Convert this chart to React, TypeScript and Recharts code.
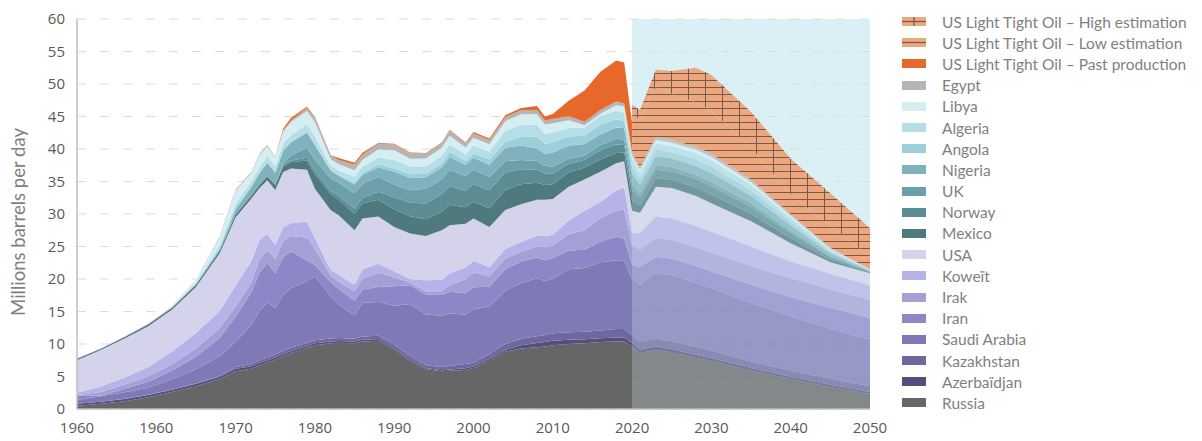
import React from 'react';
import {
  AreaChart,
  Area,
  XAxis,
  YAxis,
  CartesianGrid,
  ReferenceArea,
} from 'recharts';

// years (2020 appears twice: last historical row, then first forecast row)
const YEARS = [
  1950, 1953, 1956, 1959, 1962, 1965, 1968, 1970, 1972, 1973, 1974, 1975, 1976, 1977, 1979,
  1980, 1982, 1983, 1985, 1986, 1988, 1990, 1992, 1994, 1996, 1997, 1999, 2000, 2002, 2004,
  2006, 2008, 2009, 2010, 2012, 2014, 2016, 2018, 2019, 2020, 2020, 2021, 2023, 2025, 2028,
  2030, 2035, 2040, 2045, 2050,
];

const X_TICKS = [1950, 1960, 1970, 1980, 1990, 2000, 2010, 2020, 2030, 2040, 2050];
const X_LABELS = ['1960', '1960', '1970', '1980', '1990', '2000', '2010', '2020', '2030', '2040', '2050'];
const Y_TICKS = [0, 5, 10, 15, 20, 25, 30, 35, 40, 45, 50, 55, 60];

const RUSSIA = [
  0.5, 0.8, 1.2, 1.8, 2.6, 3.5, 4.6, 5.8, 6.2, 6.7, 7.1, 7.6, 8.1, 8.6, 9.4,
  9.8, 10.1, 10.2, 10.1, 10.4, 10.5, 9.1, 7.4, 6.1, 5.8, 5.9, 6.0, 6.3, 7.4, 8.8,
  9.3, 9.5, 9.6, 9.8, 10.0, 10.1, 10.3, 10.4, 10.4, 9.6, 9.6, 8.6, 9.1, 8.7, 7.9,
  7.4, 5.9, 4.6, 3.4, 2.3,
];
const AZERBAIDJAN = [
  0.3, 0.3, 0.33, 0.35, 0.36, 0.38, 0.38, 0.38, 0.36, 0.36, 0.35, 0.35, 0.34, 0.33, 0.31,
  0.3, 0.28, 0.28, 0.27, 0.27, 0.26, 0.25, 0.22, 0.19, 0.18, 0.18, 0.28, 0.28, 0.31, 0.31,
  0.5, 0.65, 0.7, 0.7, 0.65, 0.62, 0.6, 0.6, 0.6, 0.55, 0.55, 0.55, 0.5, 0.48, 0.44,
  0.42, 0.4, 0.35, 0.32, 0.3,
];
const KAZAKHSTAN = [
  0.02, 0.02, 0.03, 0.03, 0.04, 0.04, 0.15, 0.27, 0.4, 0.42, 0.45, 0.47, 0.48, 0.48, 0.47,
  0.47, 0.46, 0.46, 0.45, 0.47, 0.5, 0.53, 0.53, 0.43, 0.47, 0.54, 0.63, 0.55, 0.7, 0.9,
  1.0, 1.05, 1.1, 1.15, 1.15, 1.18, 1.17, 1.3, 1.3, 1.2, 1.2, 1.2, 1.25, 1.25, 1.2,
  1.15, 1.0, 0.95, 0.92, 0.9,
];
const SAUDI = [
  0.55, 0.85, 1.0, 1.1, 1.6, 2.2, 3.0, 3.9, 6.0, 7.6, 8.5, 7.1, 8.6, 9.2, 9.5,
  9.9, 6.5, 5.1, 3.6, 5.2, 5.2, 6.0, 8.0, 7.8, 7.9, 8.1, 7.6, 8.2, 7.4, 8.2,
  8.6, 8.9, 8.3, 8.4, 9.7, 9.8, 10.5, 10.6, 10.6, 8.6, 8.6, 8.75, 10.05, 10.17, 9.9,
  9.6, 9.0, 8.3, 7.7, 7.1,
];
const IRAN = [
  0.66, 0.05, 0.54, 0.93, 1.34, 1.9, 2.84, 3.83, 5.06, 5.86, 6.06, 5.35, 5.88, 5.66, 3.17,
  1.66, 2.21, 2.44, 2.25, 2.04, 2.3, 3.0, 2.9, 3.1, 3.2, 3.3, 3.3, 3.4, 3.0, 3.3,
  3.3, 3.2, 3.2, 3.2, 2.9, 2.8, 3.2, 3.6, 3.3, 2.2, 2.2, 2.8, 2.5, 2.5, 2.55,
  2.6, 2.8, 3.0, 3.2, 3.4,
];
const IRAK = [
  0.14, 0.58, 0.64, 0.84, 1.0, 1.3, 1.5, 1.6, 1.47, 2.02, 1.97, 2.26, 2.42, 2.35, 3.48,
  2.51, 1.0, 1.1, 1.43, 1.69, 2.2, 1.4, 0.4, 0.5, 0.55, 1.0, 2.2, 2.3, 1.6, 1.6,
  1.5, 1.7, 2.0, 1.85, 2.5, 3.0, 3.6, 4.0, 4.5, 3.0, 3.0, 2.6, 2.9, 2.9, 2.9,
  2.9, 2.9, 2.9, 2.85, 2.8,
];
const KOWEIT = [
  0.34, 0.86, 1.1, 1.4, 1.96, 2.36, 2.6, 3.2, 3.3, 3.0, 2.5, 2.1, 2.15, 1.97, 2.5,
  1.66, 0.82, 1.06, 1.02, 1.42, 1.4, 0.9, 0.55, 1.7, 1.8, 1.85, 1.75, 1.77, 1.39, 1.49,
  1.5, 1.6, 1.7, 1.7, 2.1, 3.0, 2.53, 3.1, 3.4, 1.85, 1.85, 2.6, 3.3, 3.3, 3.3,
  3.2, 3.0, 2.6, 2.4, 2.2,
];
const USA = [
  5.0, 5.6, 6.0, 6.3, 6.4, 7.1, 8.9, 10.5, 9.6, 8.0, 8.27, 8.47, 8.5, 8.4, 7.97,
  7.6, 9.2, 9.16, 8.38, 7.81, 7.25, 6.82, 7.0, 6.78, 7.6, 7.4, 6.74, 6.5, 6.2, 6.0,
  5.8, 5.6, 5.6, 5.5, 5.2, 4.8, 4.6, 4.2, 4.0, 3.5, 3.5, 3.1, 4.6, 4.7, 4.6,
  4.4, 3.9, 2.8, 1.8, 1.9,
];
const MEXICO = [
  0.22, 0.22, 0.25, 0.28, 0.3, 0.33, 0.4, 0.45, 0.5, 0.5, 0.6, 0.75, 0.85, 1.0, 1.45,
  2.2, 2.5, 2.4, 2.55, 2.3, 2.6, 2.75, 2.65, 2.6, 2.85, 3.15, 2.55, 2.6, 2.87, 3.08,
  3.07, 2.6, 2.26, 2.27, 2.17, 1.86, 1.89, 1.6, 1.38, 1.53, 1.53, 1.19, 1.31, 1.26, 1.29,
  1.29, 1.09, 0.77, 0.37, 0.1,
];
const NORWAY = [
  0, 0, 0, 0, 0, 0, 0, 0, 0, 0, 0, 0.1, 0.25, 0.25, 0.4,
  0.55, 0.45, 0.55, 0.75, 0.85, 1.2, 1.8, 2.1, 2.4, 2.7, 2.9, 2.5, 2.77, 2.78, 2.72,
  2.33, 2.05, 1.82, 1.66, 1.36, 1.2, 1.42, 1.3, 1.14, 1.58, 1.58, 1.19, 1.31, 1.26, 1.29,
  1.29, 1.09, 0.77, 0.37, 0.1,
];
const UK = [
  0, 0, 0, 0, 0, 0, 0, 0, 0, 0, 0, 0, 0.2, 0.75, 1.55,
  1.75, 1.95, 2.05, 2.4, 2.2, 2.3, 2.0, 1.9, 2.3, 2.3, 2.5, 2.3, 2.17, 2.06, 1.72,
  1.4, 1.3, 1.13, 1.05, 0.72, 0.62, 0.82, 0.86, 0.85, 0.93, 0.93, 0.63, 0.69, 0.67, 0.68,
  0.68, 0.58, 0.4, 0.2, 0.05,
];
const NIGERIA = [
  0, 0, 0, 0, 0, 0.12, 0.25, 0.8, 1.3, 1.8, 2.1, 1.8, 2.0, 2.0, 2.3,
  2.2, 1.2, 1.1, 1.35, 1.4, 1.5, 1.95, 1.9, 1.75, 1.8, 2.0, 1.7, 1.82, 1.88, 2.08,
  2.23, 1.95, 1.82, 2.19, 2.04, 1.79, 1.63, 1.73, 1.71, 1.67, 1.67, 1.26, 1.39, 1.33, 1.37,
  1.37, 1.15, 0.81, 0.4, 0.11,
];
const ANGOLA = [
  0, 0, 0, 0, 0, 0, 0.05, 0.08, 0.1, 0.12, 0.15, 0.15, 0.15, 0.15, 0.15,
  0.17, 0.12, 0.15, 0.22, 0.27, 0.45, 0.5, 0.55, 0.55, 0.65, 0.7, 0.62, 0.65, 0.81, 0.9,
  1.3, 1.77, 1.56, 1.57, 1.45, 1.32, 1.5, 1.3, 1.14, 1.16, 1.16, 0.91, 1.0, 0.96, 0.99,
  0.99, 0.83, 0.58, 0.29, 0.08,
];
const ALGERIA = [
  0, 0, 0, 0.02, 0.15, 0.25, 0.55, 0.75, 0.75, 0.8, 0.85, 0.85, 0.95, 1.0, 1.15,
  1.2, 0.65, 0.65, 0.95, 1.0, 1.05, 1.3, 1.2, 1.15, 1.15, 1.2, 1.0, 1.21, 1.16, 1.72,
  1.86, 1.81, 1.56, 1.49, 1.28, 1.17, 1.33, 1.3, 1.22, 1.21, 1.21, 0.91, 1.0, 0.96, 0.99,
  0.99, 0.83, 0.58, 0.29, 0.08,
];
const LIBYA = [
  0, 0, 0, 0, 0.1, 0.35, 1.2, 2.0, 1.3, 1.9, 1.5, 1.3, 1.8, 2.0, 2.05,
  2.2, 1.0, 0.95, 1.0, 1.0, 1.2, 1.5, 1.2, 1.2, 1.25, 1.3, 1.05, 1.21, 1.16, 1.45,
  1.67, 1.67, 1.43, 1.44, 1.19, 0.39, 0.34, 0.86, 0.98, 0.37, 0.37, 0.49, 0.54, 0.52, 0.53,
  0.53, 0.45, 0.32, 0.15, 0.04,
];
const EGYPT = [
  0.03, 0.03, 0.05, 0.05, 0.05, 0.05, 0.15, 0.22, 0.15, 0.18, 0.2, 0.15, 0.2, 0.25, 0.45,
  0.7, 0.63, 0.65, 0.85, 0.8, 0.9, 0.9, 0.85, 0.75, 0.7, 0.85, 0.68, 0.67, 0.68, 0.63,
  0.63, 0.65, 0.61, 0.63, 0.61, 0.55, 0.56, 0.56, 0.49, 0.56, 0.56, 0.42, 0.46, 0.44, 0.46,
  0.46, 0.38, 0.27, 0.13, 0.04,
];
const LTO_PAST = [
  0, 0, 0, 0, 0, 0, 0, 0, 0, 0, 0, 0, 0.3, 0.4, 0.2,
  0.1, 0, 0.3, 0.3, 0.3, 0.1, 0.1, 0.1, 0.1, 0.1, 0.1, 0.1, 0.2, 0.2, 0.3,
  0.3, 0.6, 0.6, 0.8, 2.4, 4.8, 5.9, 6.3, 6.3, 4.5, 0, 0, 0, 0, 0,
  0, 0, 0, 0, 0,
];
const LTO_LOW = [
  0, 0, 0, 0, 0, 0, 0, 0, 0, 0, 0, 0, 0, 0, 0,
  0, 0, 0, 0, 0, 0, 0, 0, 0, 0, 0, 0, 0, 0, 0,
  0, 0, 0, 0, 0, 0, 0, 0, 0, 0, 5.8, 7.3, 7.8, 7.1, 6.8,
  6.6, 4.9, 3.0, 3.4, 1.9,
];
const LTO_HIGH = [
  0, 0, 0, 0, 0, 0, 0, 0, 0, 0, 0, 0, 0, 0, 0,
  0, 0, 0, 0, 0, 0, 0, 0, 0, 0, 0, 0, 0, 0, 0,
  0, 0, 0, 0, 0, 0, 0, 0, 0, 0, 1.5, 1.5, 2.5, 3.5, 5.3,
  5.5, 5.5, 5.5, 5.0, 4.4,
];

// stacking order, bottom first
const SERIES = [
  { key: 'russia', label: 'Russia', color: '#666666', values: RUSSIA },
  { key: 'azerbaidjan', label: 'Azerbaïdjan', color: '#554f7d', values: AZERBAIDJAN },
  { key: 'kazakhstan', label: 'Kazakhstan', color: '#6d699f', values: KAZAKHSTAN },
  { key: 'saudi', label: 'Saudi Arabia', color: '#7f7ab5', values: SAUDI },
  { key: 'iran', label: 'Iran', color: '#8c87c7', values: IRAN },
  { key: 'irak', label: 'Irak', color: '#a4a0d6', values: IRAK },
  { key: 'koweit', label: 'Koweït', color: '#b6b3e8', values: KOWEIT },
  { key: 'usa', label: 'USA', color: '#d4d3eb', values: USA },
  { key: 'mexico', label: 'Mexico', color: '#4e797d', values: MEXICO },
  { key: 'norway', label: 'Norway', color: '#5c8c94', values: NORWAY },
  { key: 'uk', label: 'UK', color: '#6b9fa9', values: UK },
  { key: 'nigeria', label: 'Nigeria', color: '#80b2be', values: NIGERIA },
  { key: 'angola', label: 'Angola', color: '#9dcfdb', values: ANGOLA },
  { key: 'algeria', label: 'Algeria', color: '#b6dee7', values: ALGERIA },
  { key: 'libya', label: 'Libya', color: '#d6eef2', values: LIBYA },
  { key: 'egypt', label: 'Egypt', color: '#b5b5b5', values: EGYPT },
  { key: 'ltoPast', label: 'US Light Tight Oil – Past production', color: '#e8672a', values: LTO_PAST },
  { key: 'ltoLow', label: 'US Light Tight Oil – Low estimation', color: '#eea67e', values: LTO_LOW, pattern: 'hatch-low' },
  { key: 'ltoHigh', label: 'US Light Tight Oil – High estimation', color: '#eea67e', values: LTO_HIGH, pattern: 'hatch-high' },
];

const X_MIN = 1950;
const X_MAX = 2050;
const FORECAST_START = 2020;
const FORECAST_SPLIT = (FORECAST_START - X_MIN) / (X_MAX - X_MIN);
const HATCH_LINE = '#6f5c4a';

const chartData = YEARS.map((year, i) => {
  const row: Record<string, number> = { year };
  SERIES.forEach((s) => {
    row[s.key] = s.values[i];
  });
  return row;
});

const tickStyle = { fill: '#595959', fontSize: 15, fontFamily: 'Open Sans' };

function YLabel({ viewBox }: any) {
  const x = viewBox.x + 18;
  const y = viewBox.y + viewBox.height / 2 + 8;
  return (
    <text
      x={x}
      y={y}
      transform={`rotate(-90 ${x} ${y})`}
      textAnchor="middle"
      dominantBaseline="central"
      fill="#7f7f7f"
      fontSize={18.5}
      fontFamily="Lato"
    >
      Millions barrels per day
    </text>
  );
}

function Swatch({ s }: { s: (typeof SERIES)[number] }) {
  return (
    <svg width={24} height={9} style={{ display: 'block', flexShrink: 0 }}>
      <rect width={24} height={9} fill={s.color} />
      {s.pattern && <line x1={0} y1={4.5} x2={24} y2={4.5} stroke={HATCH_LINE} strokeWidth={1.2} />}
      {s.pattern === 'hatch-high' && <line x1={12} y1={0} x2={12} y2={9} stroke={HATCH_LINE} strokeWidth={1.2} />}
    </svg>
  );
}

export default function App() {
  const legendItems = [...SERIES].reverse();
  return (
    <div style={{ position: 'absolute', left: 0, top: 0, width: 1202, height: 441, background: '#fff' }}>
      <AreaChart
        width={1202}
        height={441}
        data={chartData}
        margin={{ top: 19, right: 332, bottom: 0, left: 0 }}
      >
        <defs>
          {SERIES.filter((s) => !s.pattern).map((s) => (
            <linearGradient key={s.key} id={`fade-${s.key}`} x1="0" y1="0" x2="1" y2="0">
              <stop offset={FORECAST_SPLIT} stopColor={s.color} stopOpacity={1} />
              <stop offset={FORECAST_SPLIT} stopColor={s.color} stopOpacity={0.75} />
            </linearGradient>
          ))}
          <pattern id="hatch-low" width={8} height={7} patternUnits="userSpaceOnUse">
            <rect width={8} height={7} fill="#eea67e" />
            <line x1={0} y1={3.5} x2={8} y2={3.5} stroke={HATCH_LINE} strokeWidth={1} />
          </pattern>
          <pattern id="hatch-high" width={17} height={7} patternUnits="userSpaceOnUse">
            <rect width={17} height={7} fill="#eea67e" />
            <line x1={0} y1={3.5} x2={17} y2={3.5} stroke={HATCH_LINE} strokeWidth={1} />
            <line x1={8.5} y1={0} x2={8.5} y2={7} stroke={HATCH_LINE} strokeWidth={1} />
          </pattern>
        </defs>
        <ReferenceArea
          x1={FORECAST_START}
          x2={X_MAX}
          y1={0}
          y2={60}
          fill="#daf0f5"
          fillOpacity={1}
          stroke="none"
          zIndex={-200}
        />
        <CartesianGrid vertical={false} stroke="#dcdcdc" strokeDasharray="9 14" />
        <XAxis
          dataKey="year"
          type="number"
          domain={[X_MIN, X_MAX]}
          ticks={X_TICKS}
          interval={0}
          tickFormatter={(v: number, i: number) => X_LABELS[i]}
          tick={tickStyle}
          tickLine={false}
          tickSize={4}
          tickMargin={9}
          axisLine={{ stroke: '#bfbfbf', strokeWidth: 1.5 }}
          height={32}
        />
        <YAxis
          type="number"
          domain={[0, 60]}
          ticks={Y_TICKS}
          interval={0}
          tick={tickStyle}
          tickLine={false}
          tickSize={4}
          tickMargin={8}
          axisLine={{ stroke: '#bfbfbf', strokeWidth: 1.5 }}
          width={77}
          label={YLabel}
        />
        {SERIES.map((s) => (
          <Area
            key={s.key}
            dataKey={s.key}
            name={s.label}
            stackId="1"
            type="linear"
            stroke="none"
            fill={s.pattern ? `url(#${s.pattern})` : `url(#fade-${s.key})`}
            fillOpacity={1}
            isAnimationActive={false}
            dot={false}
            activeDot={false}
          />
        ))}
      </AreaChart>

      <div
        style={{
          position: 'absolute',
          left: 902,
          top: 11,
          fontFamily: 'Lato',
          fontSize: 15.5,
          color: '#7f7f7f',
        }}
      >
        {legendItems.map((s) => (
          <div key={s.key} style={{ display: 'flex', alignItems: 'center', height: 21.2, whiteSpace: 'nowrap' }}>
            <Swatch s={s} />
            <span style={{ marginLeft: 16 }}>{s.label}</span>
          </div>
        ))}
      </div>
    </div>
  );
}
